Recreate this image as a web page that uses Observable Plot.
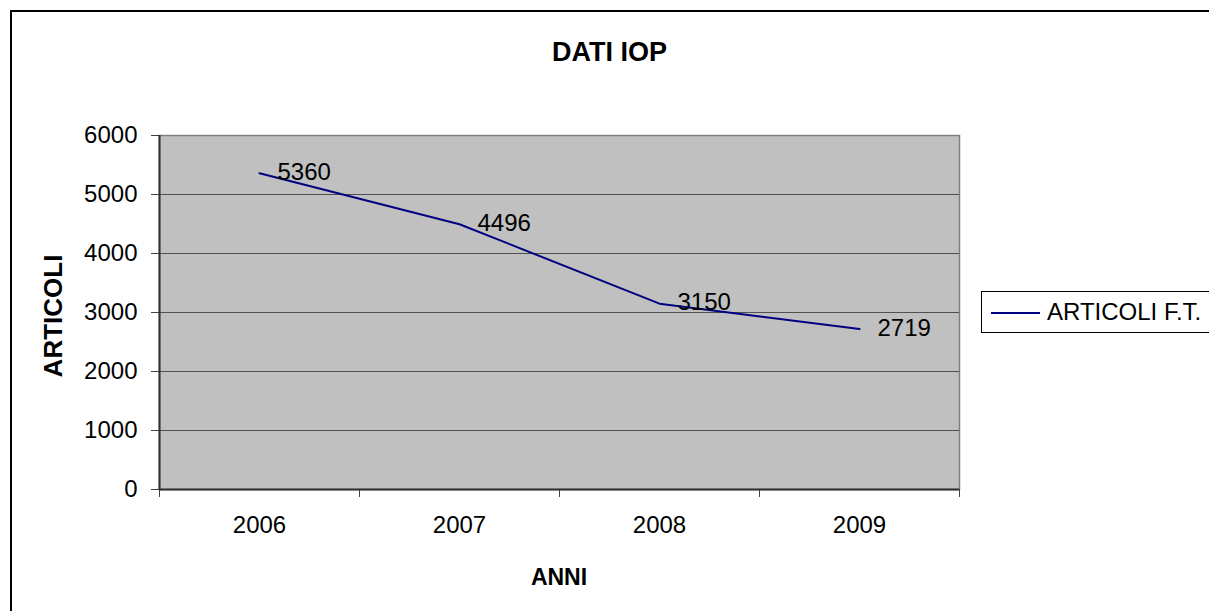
<!DOCTYPE html>
<html>
<head>
<meta charset="utf-8">
<script src="https://cdn.jsdelivr.net/npm/d3@7"></script>
<script src="https://cdn.jsdelivr.net/npm/@observablehq/plot@0.6"></script>
<style>
  html, body { margin: 0; padding: 0; background: #fff; overflow: hidden; }
  #wrap { position: relative; width: 1209px; height: 611px; overflow: hidden; font-family: "Liberation Sans", Arial, sans-serif; }
  #frame { position: absolute; left: 10px; top: 10px; width: 1400px; height: 800px; border: 2px solid #000; box-sizing: border-box; }
  #chart { position: absolute; left: 0; top: 0; }
  #title { position: absolute; left: 0; width: 1219px; top: 36px; text-align: center; font-weight: bold; font-size: 27px; line-height: 32px; color: #000; }
  #ylab { position: absolute; left: 53px; top: 316px; transform: translate(-50%, -50%) rotate(-90deg); font-weight: bold; font-size: 26px; white-space: nowrap; }
  #xlab { position: absolute; left: 559px; top: 577px; transform: translate(-50%, -50%); font-weight: bold; font-size: 23px; white-space: nowrap; }
  #legend { position: absolute; left: 981px; top: 291px; width: 400px; height: 42px; border: 1px solid #000; box-sizing: border-box; background: #fff; }
  #legend .sw { position: absolute; left: 9px; top: 20px; width: 49px; height: 2px; background: #000080; }
  #legend .lt { position: absolute; left: 65px; top: 7px; font-size: 24px; line-height: 26px; white-space: nowrap; }
</style>
</head>
<body>
<div id="wrap">
  <div id="frame"></div>
  <div id="chart"></div>
  <div id="title"></div>
  <div id="ylab"></div>
  <div id="xlab"></div>
  <div id="legend"><div class="sw"></div><div class="lt"></div></div>
</div>
<script>
const title = "DATI IOP";
const yTitle = "ARTICOLI";
const xTitle = "ANNI";
const seriesName = "ARTICOLI F.T.";
const years = [2006, 2007, 2008, 2009];
const articoli = [5360, 4496, 3150, 2719];
const yTicks = [0, 1000, 2000, 3000, 4000, 5000, 6000];

const data = years.map((y, i) => ({year: y, value: articoli[i]}));
const boundaries = [years[0] - 0.5, ...years.map(y => y + 0.5)];
const gridVals = yTicks.filter(v => v > 0 && v < 6000);

document.getElementById("title").textContent = title;
document.getElementById("ylab").textContent = yTitle;
document.getElementById("xlab").textContent = xTitle;
document.querySelector("#legend .lt").textContent = seriesName;

const chart = Plot.plot({
  width: 1209,
  height: 611,
  marginLeft: 159,
  marginRight: 250,
  marginTop: 135,
  marginBottom: 122,
  style: {fontFamily: "'Liberation Sans', Arial, sans-serif", fontSize: "24px", color: "#000", background: "transparent"},
  x: {type: "linear", domain: [boundaries[0], boundaries[boundaries.length - 1]], label: null},
  y: {domain: [0, 6000], label: null},
  marks: [
    Plot.frame({fill: "#c0c0c0", stroke: "#808080", strokeWidth: 1.5}),
    Plot.ruleY(gridVals, {stroke: "#505050", strokeWidth: 1.2}),
    Plot.axisY({ticks: yTicks, tickSize: 8, tickPadding: 14, tickFormat: d => String(d), stroke: "#404040", label: null, fontSize: 24}),
    Plot.axisX({ticks: years, tickSize: 0, tickPadding: 26, tickFormat: d => String(d), label: null, fontSize: 24}),
    Plot.axisX({ticks: boundaries, tickSize: 8, tickFormat: () => "", stroke: "#404040", label: null}),
    Plot.ruleX([boundaries[0]], {stroke: "#303030", strokeWidth: 2}),
    Plot.ruleY([0], {stroke: "#303030", strokeWidth: 2}),
    Plot.line(data, {x: "year", y: "value", stroke: "#000080", strokeWidth: 2}),
    Plot.text(data, {x: "year", y: "value", text: d => String(d.value), textAnchor: "start", dx: 18, dy: -1, fontSize: 24, fill: "#000"})
  ]
});
document.getElementById("chart").appendChild(chart);
</script>
</body>
</html>
